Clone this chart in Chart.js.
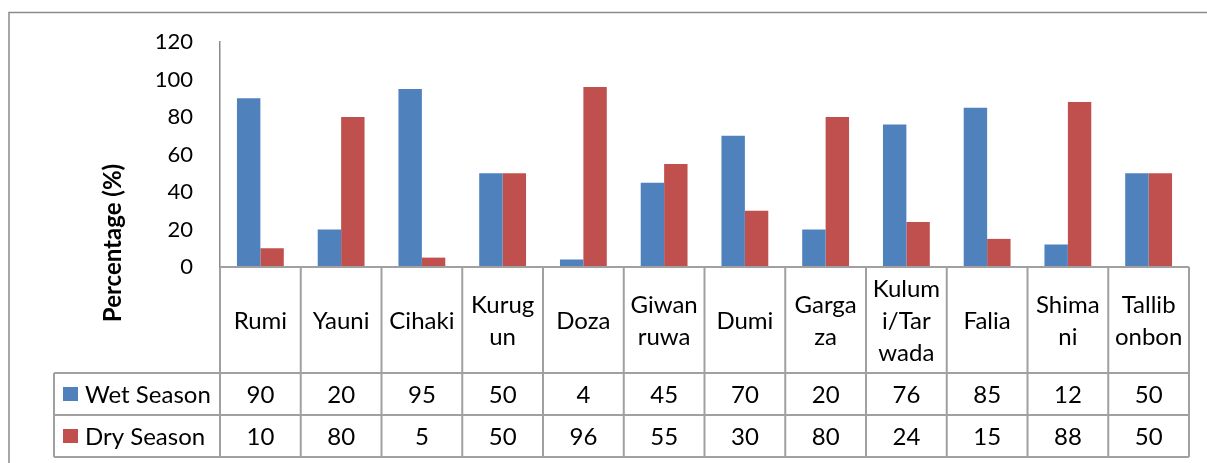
<!DOCTYPE html>
<html>
<head>
<meta charset="utf-8">
<script src="https://cdn.jsdelivr.net/npm/chart.js@4.4.0/dist/chart.umd.min.js"></script>
<style>
  html, body { margin: 0; padding: 0; background: #fff; }
  #wrap { width: 1207px; height: 463px; }
</style>
</head>
<body>
<div id="wrap"><canvas id="myChart" width="1207" height="463"></canvas></div>
<script>
var categorias = ['Rumi', 'Yauni', 'Cihaki', 'Kurug\nun', 'Doza', 'Giwan\nruwa', 'Dumi', 'Garga\nza', 'Kulum\ni/Tar\nwada', 'Falia', 'Shima\nni', 'Tallib\nonbon'];
var chuvosa = [90, 20, 95, 50, 4, 45, 70, 20, 76, 85, 12, 50];
var seca = [10, 80, 5, 50, 96, 55, 30, 80, 24, 15, 88, 50];
var series = ['Wet Season', 'Dry Season'];
var cores = ['#4F81BD', '#C0504D'];
var ticksY = [0, 20, 40, 60, 80, 100, 120];

var fonte = 'Lato, "Open Sans", sans-serif';
var corLinha = '#a0a0a0';

// tabela de dados embaixo do grafico (estilo Excel)
var tabela = {
    id: 'tabela',
    afterDraw: function(chart){
        var ctx = chart.ctx;
        var area = chart.chartArea;
        var x = chart.scales.x;
        var larg = (area.right - area.left) / categorias.length;
        var topo = area.bottom;
        var linhaCat = topo + 106;
        var linhaWet = linhaCat + 42;
        var fim = linhaWet + 42;
        var esq = 54;

        ctx.save();
        // borda externa
        ctx.strokeStyle = '#8a8a8a';
        ctx.lineWidth = 1.5;
        ctx.strokeRect(9, 12.5, 1220, 480);

        ctx.strokeStyle = corLinha;
        ctx.lineWidth = 2;
        ctx.beginPath();
        ctx.moveTo(area.left, topo); ctx.lineTo(area.right, topo);
        ctx.moveTo(esq, linhaCat); ctx.lineTo(area.right, linhaCat);
        ctx.moveTo(esq, linhaWet); ctx.lineTo(area.right, linhaWet);
        ctx.moveTo(esq, fim); ctx.lineTo(area.right, fim);
        ctx.moveTo(esq, linhaCat); ctx.lineTo(esq, fim);
        for (var i = 0; i <= categorias.length; i++){
            var xx = area.left + i * larg;
            ctx.moveTo(xx, topo); ctx.lineTo(xx, fim);
        }
        ctx.stroke();

        ctx.fillStyle = '#000';
        ctx.font = '24px ' + fonte;
        ctx.textAlign = 'center';
        ctx.textBaseline = 'middle';
        for (var i = 0; i < categorias.length; i++){
            var cx = x.getPixelForValue(i);
            var partes = categorias[i].split('\n');
            var meio = (topo + linhaCat) / 2 + 1;
            for (var j = 0; j < partes.length; j++){
                ctx.fillText(partes[j], cx, meio + (j - (partes.length - 1) / 2) * 32);
            }
            ctx.fillText(String(chuvosa[i]), cx, (linhaCat + linhaWet) / 2 + 1);
            ctx.fillText(String(seca[i]), cx, (linhaWet + fim) / 2 + 1);
        }

        // legenda
        ctx.textAlign = 'left';
        for (var s = 0; s < series.length; s++){
            var cy = s == 0 ? (linhaCat + linhaWet) / 2 : (linhaWet + fim) / 2;
            ctx.fillStyle = cores[s];
            ctx.fillRect(63, cy - 7, 15, 14);
            ctx.fillStyle = '#000';
            ctx.fillText(series[s], 85, cy + 1);
        }

        // titulo do eixo y
        ctx.save();
        ctx.translate(113, 243);
        ctx.rotate(-Math.PI / 2);
        ctx.textAlign = 'center';
        ctx.font = 'bold 24px ' + fonte;
        ctx.fillText('Percentage (%)', 0, 0);
        ctx.restore();

        ctx.restore();
    }
};

var ctx = document.getElementById('myChart');
var myChart = new Chart(ctx, {
    type: 'bar',
    data: {
        labels: categorias,
        datasets: [{
            label: series[0],
            data: chuvosa,
            backgroundColor: cores[0],
            categoryPercentage: 0.58,
            barPercentage: 1
        }, {
            label: series[1],
            data: seca,
            backgroundColor: cores[1],
            categoryPercentage: 0.58,
            barPercentage: 1
        }]
    },
    options: {
        responsive: false,
        animation: false,
        layout: { padding: { left: 0, right: 18, top: 42, bottom: 196 } },
        plugins: {
            legend: { display: false },
            tooltip: { enabled: false }
        },
        scales: {
            x: { display: false },
            y: {
                min: 0,
                max: 120,
                afterFit: function(s){ s.width = 220; },
                afterBuildTicks: function(s){
                    s.ticks = ticksY.map(function(v){ return { value: v }; });
                },
                grid: { display: false, drawTicks: false },
                border: { display: true, color: '#8a8a8a', width: 1.5 },
                ticks: {
                    padding: 27,
                    color: '#000',
                    font: { family: fonte, size: 22 }
                }
            }
        }
    },
    plugins: [tabela]
});
</script>
</body>
</html>
